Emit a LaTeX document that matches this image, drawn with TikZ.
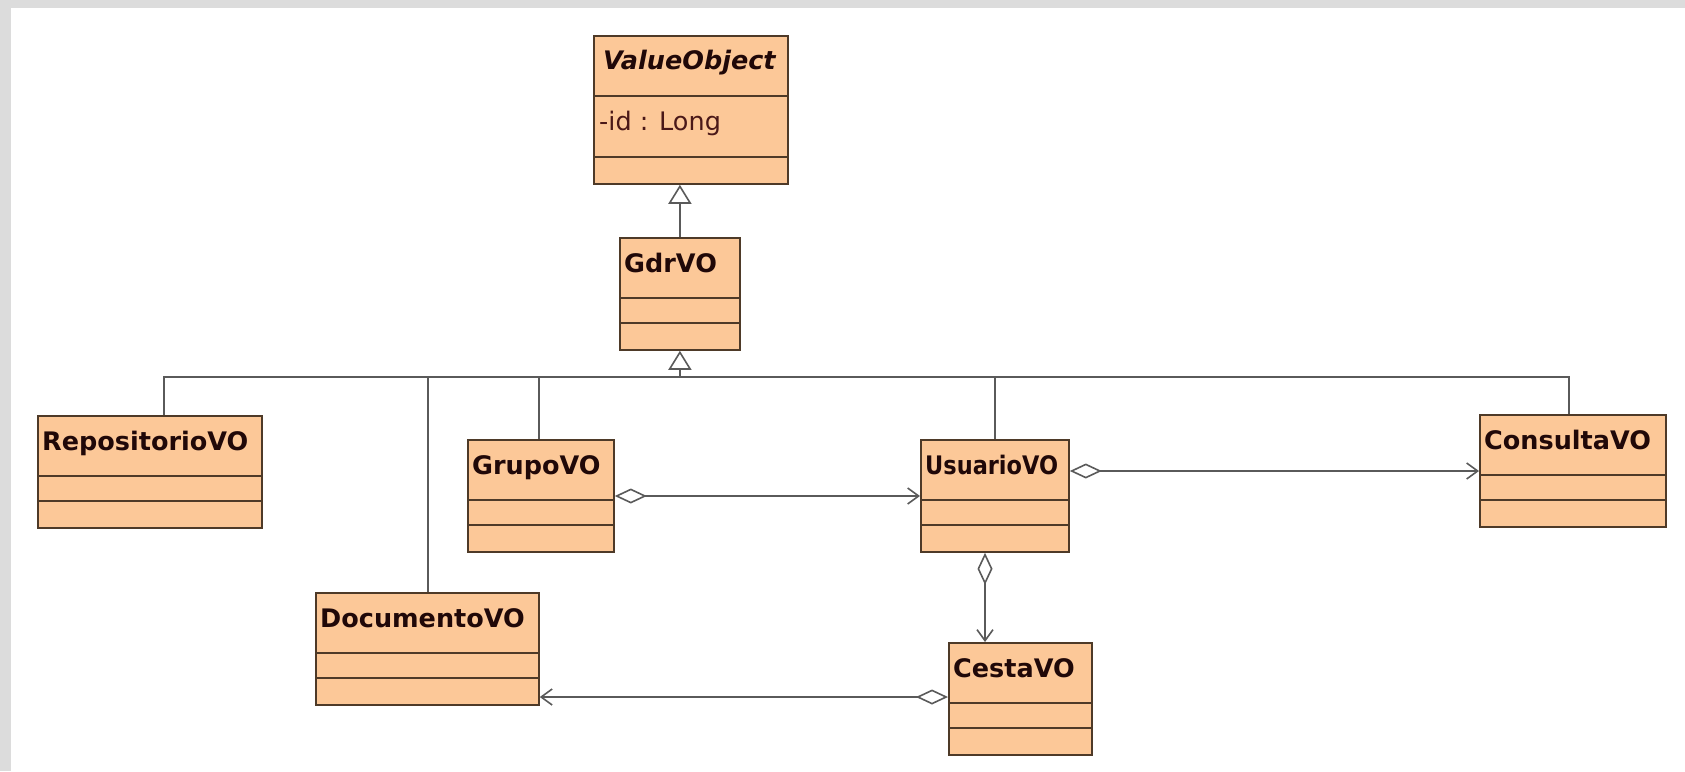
\documentclass[tikz,border=0pt]{standalone}
\usepackage{fontspec}
\setmainfont{DejaVu Sans}
\usetikzlibrary{arrows.meta}
\definecolor{vofill}{HTML}{FCC898}
\definecolor{voline}{HTML}{4E3A28}
\definecolor{vogray}{HTML}{5A5A5A}
\definecolor{votext}{HTML}{200808}
\definecolor{voattr}{HTML}{4A1818}
\definecolor{voframe}{HTML}{DCDCDC}
\newcommand\vofont{\fontsize{25.5}{30}\selectfont}
\tikzset{
  voclass/.style={draw=voline,fill=vofill,line width=1.8pt,minimum height=112pt,inner sep=0pt,anchor=north west},
  vodiv/.style={draw=voline,line width=1.6pt},
  votitle/.style={anchor=base west,inner sep=0pt,text=votext,font=\vofont\bfseries},
  gen/.style={draw=vogray,line width=1.6pt,-{Triangle[open,length=19pt,width=23pt]}},
  bus/.style={draw=vogray,line width=1.6pt},
  agg/.style={draw=vogray,line width=1.6pt,{Diamond[open,length=32pt,width=15pt]}-{Straight Barb[length=11pt,width=16pt]}}
}
\begin{document}
\begin{tikzpicture}[x=1pt,y=-1pt]
  \useasboundingbox (0,0) rectangle (1685,771);
  \fill[voframe] (0,0) rectangle (1685,771);
  \fill[white] (11,8) rectangle (1685,771);
  % abstract base class
  \node[voclass,minimum width=194pt,minimum height=148pt] (vo) at (593,35) {};
  \node[votitle,font=\vofont\bfseries\itshape] (vo-t) at ([shift={(10,34)}]vo.north west) {ValueObject};
  \node[votitle,font=\vofont,text=voattr] (vo-a) at ([shift={(6,95)}]vo.north west) {-id : Long};
  \draw[vodiv] ([yshift=-61pt]vo.north west) -- ([yshift=-61pt]vo.north east);
  \draw[vodiv] ([yshift=-122pt]vo.north west) -- ([yshift=-122pt]vo.north east);
  % value objects
  \foreach \nm/\x/\y/\w/\txt in
    {gdr/619/237/120/GdrVO, repo/37/415/224/RepositorioVO, grupo/467/439/146/GrupoVO,
     usu/920/439/148/{\scalebox{0.88}[1]{UsuarioVO}}, cons/1479/414/186/ConsultaVO,
     doc/315/592/223/DocumentoVO, cesta/948/642/143/CestaVO}
  {
    \node[voclass,minimum width=\w pt] (\nm) at (\x,\y) {};
    \node[votitle] (\nm-t) at ([shift={(5,35)}]\nm.north west) {\txt};
    \draw[vodiv] ([yshift=-61pt]\nm.north west) -- ([yshift=-61pt]\nm.north east);
    \draw[vodiv] ([yshift=-86pt]\nm.north west) -- ([yshift=-86pt]\nm.north east);
  }
  % inheritance
  \draw[gen] (gdr.north) -- (gdr.north |- vo.south);
  \coordinate (busc) at (gdr.south |- 0,377);
  \foreach \nm/\dx in {repo/14, doc/0.5, grupo/-2, usu/0, cons/-4}
    \draw[bus] ([xshift=\dx pt]\nm.north) |- (busc);
  \draw[gen] (busc) -- (gdr.south);
  % aggregations
  \draw[agg] ([yshift=-57pt]grupo.north east) -- ([yshift=-57pt]usu.north west);
  \draw[agg] ([yshift=-32pt]usu.north east) -- ([yshift=-57pt]cons.north west);
  \draw[agg] ([xshift=65pt]usu.south west) -- ([xshift=37pt]cesta.north west);
  \draw[agg] ([yshift=-55pt]cesta.north west) -- ([yshift=-105pt]doc.north east);
\end{tikzpicture}
\end{document}
